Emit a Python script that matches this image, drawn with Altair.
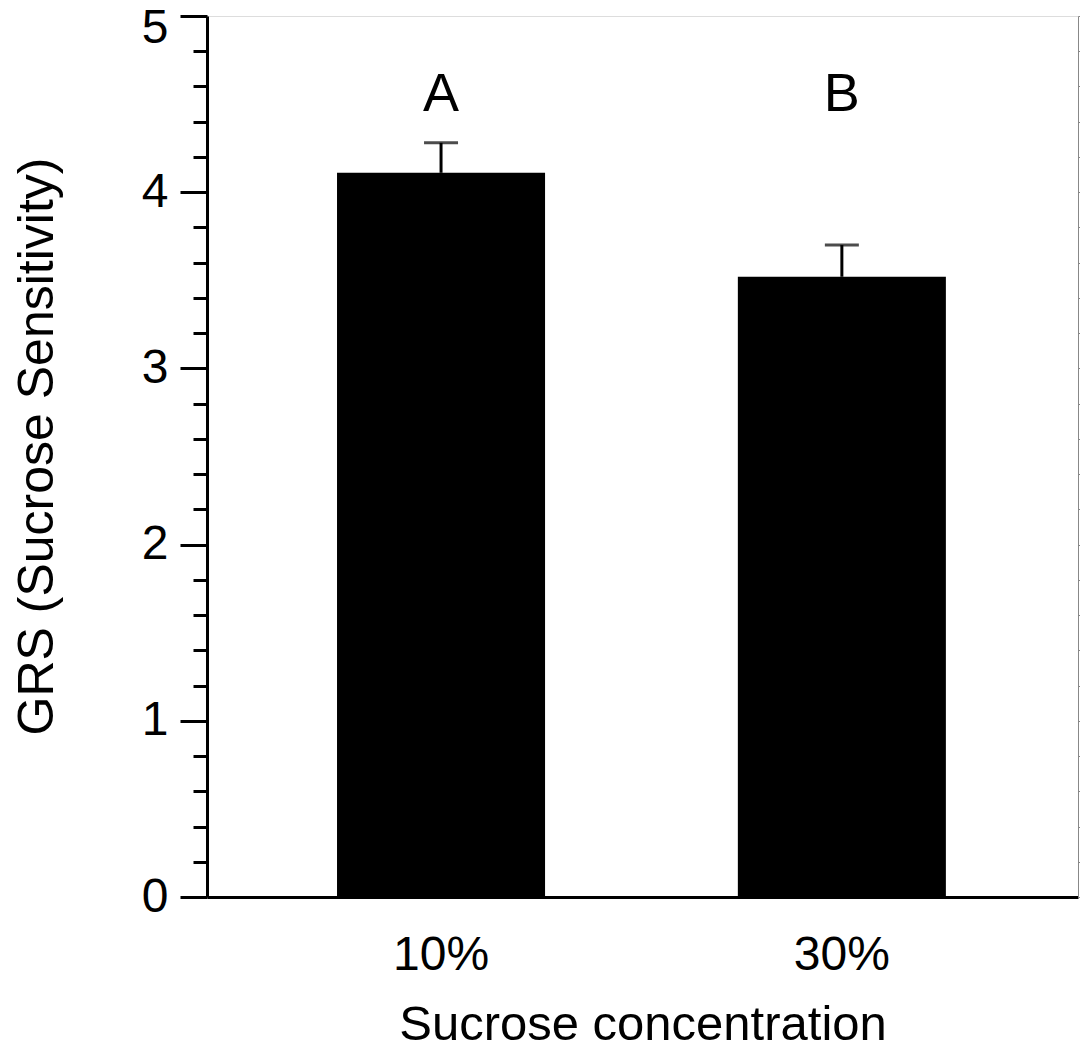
import altair as alt
import pandas as pd

categories = ["10%", "30%"]
means = [4.11, 3.52]
errors = [0.17, 0.18]
letters = ["A", "B"]
letter_level = 4.46

major_ticks = [0, 1, 2, 3, 4, 5]
minor_ticks = [round(i * 0.2, 1) for i in range(26) if i % 5 != 0]

df = pd.DataFrame({
    "conc": categories,
    "mean": means,
    "err": errors,
    "letter": letters,
})
df["upper"] = df["mean"] + df["err"]

FONT = "Liberation Sans"

xscale = alt.Scale(paddingInner=0.481, paddingOuter=0.327, align=0.496)
yscale = alt.Scale(domain=[0, 5], nice=False, zero=True)

x_enc = alt.X(
    "conc:N",
    scale=xscale,
    sort=categories,
    axis=alt.Axis(
        title="Sucrose concentration",
        labelAngle=0,
        ticks=False,
        tickSize=0,
        labelPadding=34,
        labelFontSize=48,
        titleFontSize=49,
        titlePadding=21,
        domainWidth=3,
        domainColor="black",
        labelColor="black",
        titleColor="black",
        titleFontWeight="normal",
    ),
)

bars = alt.Chart(df).mark_bar(color="black").encode(
    x=x_enc,
    y=alt.Y(
        "mean:Q",
        scale=yscale,
        axis=alt.Axis(
            title="GRS (Sucrose Sensitivity)",
            orient="left",
            values=major_ticks,
            tickSize=27,
            tickWidth=3,
            tickColor="black",
            domainWidth=3,
            domainColor="black",
            labelFontSize=48,
            labelPadding=12,
            labelColor="black",
            labelOffset={"expr": "datum.value == 5 ? 12 : 0"},
            titleFontSize=50,
            titleColor="black",
            titleFontWeight="normal",
            titleBaseline="alphabetic",
            titleX=-155,
            titleY=430,
            grid=False,
        ),
    ),
)

err_rule = alt.Chart(df).mark_rule(color="black", strokeWidth=3).encode(
    x=alt.X("conc:N", scale=xscale, sort=categories),
    y=alt.Y(
        "mean:Q",
        scale=yscale,
        axis=alt.Axis(
            orient="left",
            values=minor_ticks,
            tickSize=14,
            tickWidth=3,
            tickColor="black",
            labels=False,
            domain=False,
            title=None,
            grid=False,
        ),
    ),
    y2="upper:Q",
)

caps = alt.Chart(df).mark_tick(color="black", size=34, thickness=3).encode(
    x=alt.X("conc:N", scale=xscale, sort=categories),
    y=alt.Y("upper:Q", scale=yscale, axis=None),
)

letter_text = alt.Chart(df).mark_text(
    font=FONT, fontSize=54, color="black", baseline="alphabetic", align="center"
).encode(
    x=alt.X("conc:N", scale=xscale, sort=categories),
    y=alt.datum(letter_level, scale=yscale),
    text="letter:N",
)

chart = (
    alt.layer(bars, err_rule, caps, letter_text)
    .resolve_axis(y="independent")
    .properties(
        width=871,
        height=881,
        autosize=alt.AutoSizeParams(type="none"),
        padding={"left": 199, "top": 8, "right": 2, "bottom": 152},
    )
    .configure_view(stroke="black", strokeWidth=3)
    .configure(font=FONT)
    .configure_axis(labelFont=FONT, titleFont=FONT)
)

chart.save("out.html", embed_options={"renderer": "svg", "actions": False})
